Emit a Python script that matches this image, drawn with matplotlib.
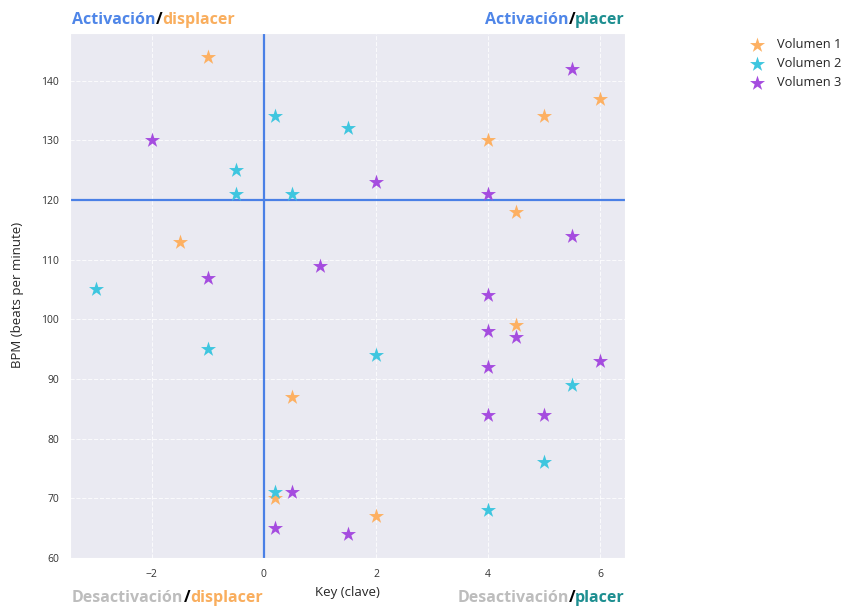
import matplotlib.pyplot as plt
import seaborn as sns

sns.set_style("darkgrid", {"grid.linestyle": "--", "axes.facecolor": "#EAEAF2"})
plt.rcParams['font.family'] = ['Open Sans', 'DejaVu Sans']

# Volumen 1
v1_key = [-1, 6, 5, 4, 4.5, -1.5, 4.5, 0.5, 0.2, 2]
v1_bpm = [144, 137, 134, 130, 118, 113, 99, 87, 70, 67]
# Volumen 2
v2_key = [0.2, 1.5, -0.5, -0.5, 0.5, -3, -1, 2, 5.5, 5, 0.2, 4]
v2_bpm = [134, 132, 125, 121, 121, 105, 95, 94, 89, 76, 71, 68]
# Volumen 3
v3_key = [5.5, -2, 2, 4, 5.5, 1, -1, 4, 4, 4.5, 6, 4, 4, 5, 0.5, 0.2, 1.5]
v3_bpm = [142, 130, 123, 121, 114, 109, 107, 104, 98, 97, 93, 92, 84, 84, 71, 65, 64]

series = [("Volumen 1", v1_key, v1_bpm, "#FDB062"),
          ("Volumen 2", v2_key, v2_bpm, "#3EC6DF"),
          ("Volumen 3", v3_key, v3_bpm, "#A54CDF")]

fig = plt.figure(figsize=(8.48, 6.11), dpi=100)
ax = fig.add_axes([0.0825, 0.087, 0.655, 0.859])

for name, k, b, c in series:
    ax.scatter(k, b, marker='*', s=130, color=c, linewidths=0, label=name, zorder=3)

ax.axvline(0, color="#4A80E6", lw=1.6, zorder=2)
ax.axhline(120, color="#4A80E6", lw=1.6, zorder=2)

ax.set_xlim(-3.46, 6.45)
ax.set_ylim(60, 148)
ax.set_xticks([-2, 0, 2, 4, 6])
ax.set_yticks(range(60, 141, 10))
ax.grid(color="white", linestyle="--", linewidth=0.8, alpha=0.8)
ax.tick_params(labelsize=7.5, colors="#333333", length=0, pad=8)
ax.set_xlabel("Key (clave)", fontsize=9.5)
ax.set_ylabel("BPM (beats per minute)", fontsize=9.5, labelpad=12)

fig.legend(loc='upper left', bbox_to_anchor=(0.884, 0.937), frameon=False,
           fontsize=9.3, handletextpad=0.9, handlelength=1.2, labelspacing=0.45,
           scatterpoints=1, borderaxespad=0, borderpad=0)

blue = "#4F86E8"
orange = "#F9AE5E"
teal = "#1E8F91"
gray = "#BDBDBD"
fs = 11.5


def chain_left(x, y, parts):
    prev = fig.text(x, y, parts[0][0], color=parts[0][1], fontsize=fs,
                    fontweight='bold', ha='left', va='center')
    for s, c in parts[1:]:
        prev = ax.annotate(s, xy=(1, 0), xycoords=prev, ha='left', va='bottom',
                           color=c, fontsize=fs, fontweight='bold')


def chain_right(x, y, parts):
    prev = fig.text(x, y, parts[-1][0], color=parts[-1][1], fontsize=fs,
                    fontweight='bold', ha='right', va='center')
    for s, c in reversed(parts[:-1]):
        prev = ax.annotate(s, xy=(0, 0), xycoords=prev, ha='right', va='bottom',
                           color=c, fontsize=fs, fontweight='bold')


chain_left(0.085, 0.968, [("Activación", blue), ("/", "black"), ("displacer", orange)])
chain_right(0.737, 0.968, [("Activación", blue), ("/", "black"), ("placer", teal)])
chain_left(0.085, 0.022, [("Desactivación", gray), ("/", "black"), ("displacer", orange)])
chain_right(0.737, 0.022, [("Desactivación", gray), ("/", "black"), ("placer", teal)])

fig.savefig("out.png", dpi=100)
